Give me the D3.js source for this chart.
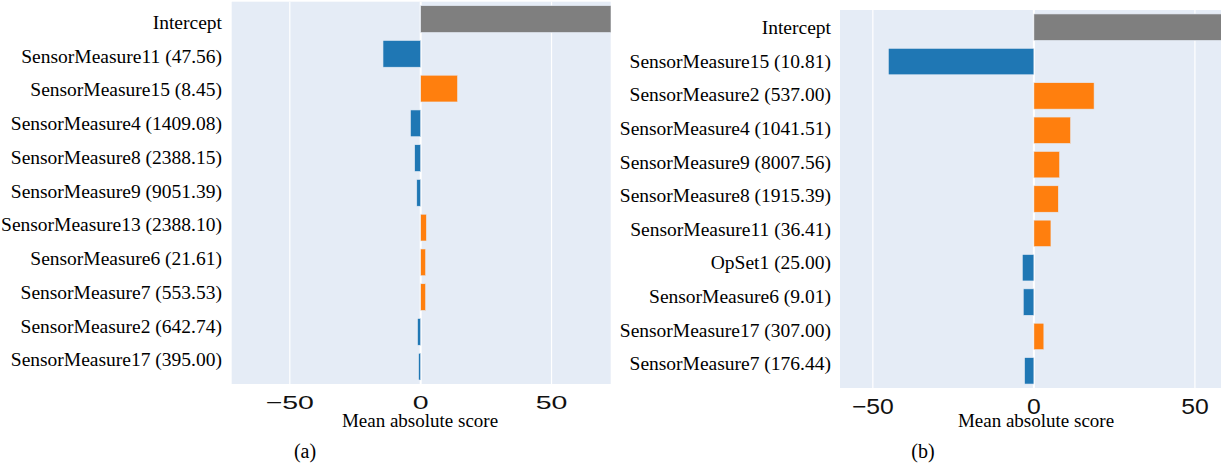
<!DOCTYPE html>
<html lang="en">
<head>
    <meta charset="UTF-8">
    <title>Mean absolute score</title>
    <style>
        body {
            margin: 0;
            background-color: #ffffff;
            overflow: hidden;
        }
        svg {
            display: block;
        }
        .row-label, .axis-title, .caption {
            font-family: "Liberation Serif", "Times New Roman", serif;
            fill: #000;
        }
        .tick-label {
            font-family: "Liberation Sans", Arial, sans-serif;
            fill: #111;
        }
    </style>
</head>
<body>
    <svg id="chart" width="1221" height="470"></svg>

    <script src="https://d3js.org/d3.v7.min.js"></script>
    <script>
        // panel (a)
        const rowsA = ["Intercept", "SensorMeasure11 (47.56)", "SensorMeasure15 (8.45)",
            "SensorMeasure4 (1409.08)", "SensorMeasure8 (2388.15)", "SensorMeasure9 (9051.39)",
            "SensorMeasure13 (2388.10)", "SensorMeasure6 (21.61)", "SensorMeasure7 (553.53)",
            "SensorMeasure2 (642.74)", "SensorMeasure17 (395.00)"];
        const valuesA = [75, -14.4, 14.1, -3.9, -2.3, -1.5, 2.2, 1.9, 1.9, -1.2, -0.8];

        // panel (b)
        const rowsB = ["Intercept", "SensorMeasure15 (10.81)", "SensorMeasure2 (537.00)",
            "SensorMeasure4 (1041.51)", "SensorMeasure9 (8007.56)", "SensorMeasure8 (1915.39)",
            "SensorMeasure11 (36.41)", "OpSet1 (25.00)", "SensorMeasure6 (9.01)",
            "SensorMeasure17 (307.00)", "SensorMeasure7 (176.44)"];
        const valuesB = [75, -45.2, 18.7, 11.4, 8.0, 7.6, 5.3, -3.6, -3.3, 3.1, -2.9];

        const tickValues = [-50, 0, 50];
        const tickLabels = ["\u221250", "0", "50"];
        const axisTitle = "Mean absolute score";

        const colours = { intercept: "#7f7f7f", neg: "#1f77b4", pos: "#ff7f0e" };

        const svg = d3.select("#chart");

        const panels = [
            { id: "a", rows: rowsA, values: valuesA, domain: [-72.2, 72.6],
              left: 231.7, right: 610.7, top: 1.7, bottom: 384,
              labelX: 222, labelTop: 22.7, labelBottom: 360,
              tickSize: 19, tickStretch: 1.5, tickBase: 409,
              titleX: 420, captionX: 305, caption: "(a)" },
            { id: "b", rows: rowsB, values: valuesB, domain: [-60.2, 58.1],
              left: 840, right: 1221, top: 10, bottom: 388,
              labelX: 831, labelTop: 28, labelBottom: 364,
              tickSize: 21.5, tickStretch: 1.15, tickBase: 414,
              titleX: 1036, captionX: 923, caption: "(b)" }
        ];

        panels.forEach(p => drawPanel(p));

        function drawPanel(p) {
            const g = svg.append("g");

            const x = d3.scaleLinear()
                .domain(p.domain)
                .range([p.left, p.right]);

            const y = d3.scaleBand()
                .domain(p.rows)
                .range([p.top, p.bottom])
                .paddingInner(0.23)
                .paddingOuter(0.115);

            // labels sit slightly off the bar centres in the original figure
            const yLabel = d3.scalePoint()
                .domain(p.rows)
                .range([p.labelTop, p.labelBottom]);

            g.append("clipPath")
                .attr("id", "clip-" + p.id)
                .append("rect")
                .attr("x", p.left)
                .attr("y", p.top)
                .attr("width", p.right - p.left)
                .attr("height", p.bottom - p.top);

            // plot background
            g.append("rect")
                .attr("x", p.left)
                .attr("y", p.top)
                .attr("width", p.right - p.left)
                .attr("height", p.bottom - p.top)
                .attr("fill", "#E5ECF6");

            // grid lines
            g.selectAll(".grid")
                .data(tickValues)
                .enter().append("line")
                .attr("class", "grid")
                .attr("x1", d => x(d))
                .attr("x2", d => x(d))
                .attr("y1", p.top)
                .attr("y2", p.bottom)
                .attr("stroke", "#ffffff")
                .attr("stroke-width", d => d === 0 ? 2 : 1.2);

            // bars
            g.append("g")
                .attr("clip-path", `url(#clip-${p.id})`)
                .selectAll(".bar")
                .data(p.rows)
                .enter().append("rect")
                .attr("class", "bar")
                .attr("x", (d, i) => x(Math.min(0, p.values[i])))
                .attr("y", d => y(d))
                .attr("width", (d, i) => Math.abs(x(p.values[i]) - x(0)))
                .attr("height", y.bandwidth())
                .attr("fill", (d, i) => i === 0 ? colours.intercept : (p.values[i] < 0 ? colours.neg : colours.pos))
                .attr("stroke", "#E5ECF6")
                .attr("stroke-width", 0.6);

            // row labels
            g.selectAll(".row-label")
                .data(p.rows)
                .enter().append("text")
                .attr("class", "row-label")
                .attr("x", p.labelX)
                .attr("y", d => yLabel(d))
                .attr("dy", "0.32em")
                .attr("text-anchor", "end")
                .style("font-size", "19.5px")
                .text(d => d);

            // x tick labels
            g.selectAll(".tick-label")
                .data(tickValues)
                .enter().append("text")
                .attr("class", "tick-label")
                .attr("text-anchor", "middle")
                .attr("transform", d => `translate(${x(d)},${p.tickBase}) scale(${p.tickStretch},1)`)
                .style("font-size", p.tickSize + "px")
                .text((d, i) => tickLabels[i]);

            // axis title
            g.append("text")
                .attr("class", "axis-title")
                .attr("x", p.titleX)
                .attr("y", 427)
                .attr("text-anchor", "middle")
                .style("font-size", "19px")
                .text(axisTitle);

            // caption
            g.append("text")
                .attr("class", "caption")
                .attr("x", p.captionX)
                .attr("y", 458)
                .attr("text-anchor", "middle")
                .style("font-size", "20px")
                .text(p.caption);
        }
    </script>
</body>
</html>
